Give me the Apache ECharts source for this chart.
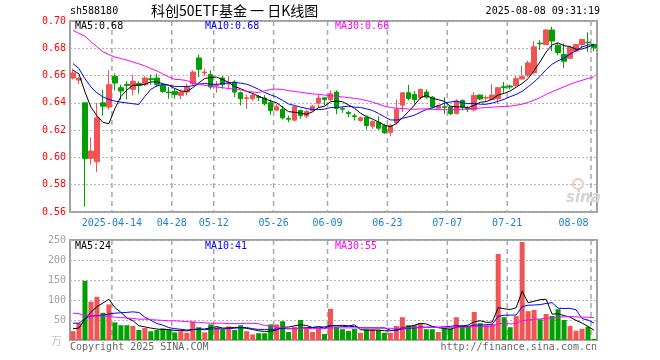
<!DOCTYPE html>
<html><head><meta charset="utf-8">
<script src="https://cdn.jsdelivr.net/npm/echarts@6/dist/echarts.min.js"></script>
<style>html,body{margin:0;padding:0;background:#fff}#c{width:660px;height:360px}</style>
</head><body><div id="c"></div>
<script>
const dates = ['2025-04-02','2025-04-03','2025-04-07','2025-04-08','2025-04-09','2025-04-10','2025-04-11','2025-04-14','2025-04-15','2025-04-16',
'2025-04-17','2025-04-18','2025-04-21','2025-04-22','2025-04-23','2025-04-24','2025-04-25','2025-04-28','2025-04-29','2025-04-30',
'2025-05-06','2025-05-07','2025-05-08','2025-05-09','2025-05-12','2025-05-13','2025-05-14','2025-05-15','2025-05-16','2025-05-19',
'2025-05-20','2025-05-21','2025-05-22','2025-05-23','2025-05-26','2025-05-27','2025-05-28','2025-05-29','2025-05-30','2025-06-03',
'2025-06-04','2025-06-05','2025-06-06','2025-06-09','2025-06-10','2025-06-11','2025-06-12','2025-06-13','2025-06-16','2025-06-17',
'2025-06-18','2025-06-19','2025-06-20','2025-06-23','2025-06-24','2025-06-25','2025-06-26','2025-06-27','2025-06-30','2025-07-01',
'2025-07-02','2025-07-03','2025-07-04','2025-07-07','2025-07-08','2025-07-09','2025-07-10','2025-07-11','2025-07-14','2025-07-15',
'2025-07-16','2025-07-17','2025-07-18','2025-07-21','2025-07-22','2025-07-23','2025-07-24','2025-07-25','2025-07-28','2025-07-29',
'2025-07-30','2025-07-31','2025-08-01','2025-08-04','2025-08-05','2025-08-06','2025-08-07','2025-08-08'];
const tickDates = ['2025-04-14','2025-04-28','2025-05-12','2025-05-26','2025-06-09','2025-06-23','2025-07-07','2025-07-21','2025-08-08'];
const opens = [0.6582,0.6567,0.6400,0.5993,0.5968,0.6400,0.6369,0.6595,0.6511,0.6536,
0.6499,0.6541,0.6533,0.6577,0.6582,0.6528,0.6479,0.6484,0.6455,0.6479,
0.6541,0.6729,0.6619,0.6607,0.6526,0.6582,0.6538,0.6553,0.6474,0.6432,
0.6430,0.6445,0.6435,0.6400,0.6347,0.6351,0.6285,0.6273,0.6344,0.6303,
0.6344,0.6398,0.6437,0.6425,0.6479,0.6359,0.6330,0.6305,0.6271,0.6295,
0.6229,0.6258,0.6234,0.6184,0.6253,0.6383,0.6474,0.6462,0.6437,0.6479,
0.6442,0.6361,0.6371,0.6371,0.6322,0.6418,0.6359,0.6349,0.6457,0.6435,
0.6425,0.6430,0.6518,0.6523,0.6528,0.6575,0.6602,0.6621,0.6838,0.6828,
0.6934,0.6823,0.6754,0.6727,0.6779,0.6828,0.6845,0.6828];
const closes = [0.6619,0.6579,0.5993,0.6047,0.6290,0.6376,0.6533,0.6545,0.6486,0.6528,
0.6558,0.6528,0.6582,0.6570,0.6536,0.6484,0.6474,0.6462,0.6479,0.6516,
0.6626,0.6646,0.6626,0.6516,0.6531,0.6533,0.6543,0.6479,0.6430,0.6437,
0.6455,0.6440,0.6393,0.6344,0.6371,0.6290,0.6280,0.6371,0.6307,0.6337,
0.6376,0.6435,0.6425,0.6467,0.6361,0.6354,0.6320,0.6300,0.6290,0.6234,
0.6263,0.6214,0.6180,0.6234,0.6351,0.6474,0.6432,0.6425,0.6499,0.6442,
0.6369,0.6381,0.6366,0.6322,0.6413,0.6369,0.6354,0.6455,0.6428,0.6440,
0.6457,0.6511,0.6511,0.6516,0.6577,0.6592,0.6693,0.6811,0.6833,0.6934,
0.6853,0.6769,0.6705,0.6806,0.6828,0.6865,0.6840,0.6804];
const lows = [0.6572,0.6538,0.5639,0.5946,0.5894,0.6307,0.6351,0.6491,0.6423,0.6425,
0.6455,0.6467,0.6523,0.6533,0.6516,0.6474,0.6430,0.6430,0.6425,0.6455,
0.6528,0.6590,0.6597,0.6499,0.6474,0.6504,0.6504,0.6442,0.6381,0.6356,
0.6416,0.6413,0.6381,0.6312,0.6344,0.6278,0.6258,0.6266,0.6283,0.6288,
0.6337,0.6366,0.6381,0.6413,0.6317,0.6327,0.6295,0.6271,0.6261,0.6204,
0.6209,0.6202,0.6172,0.6155,0.6241,0.6334,0.6418,0.6393,0.6425,0.6430,
0.6361,0.6351,0.6317,0.6310,0.6315,0.6344,0.6332,0.6337,0.6420,0.6413,
0.6418,0.6393,0.6474,0.6499,0.6516,0.6570,0.6590,0.6609,0.6786,0.6823,
0.6779,0.6749,0.6656,0.6720,0.6774,0.6803,0.6774,0.6779];
const highs = [0.6651,0.6590,0.6400,0.6147,0.6400,0.6496,0.6639,0.6614,0.6533,0.6558,
0.6607,0.6558,0.6597,0.6607,0.6614,0.6541,0.6516,0.6504,0.6499,0.6541,
0.6639,0.6754,0.6651,0.6639,0.6560,0.6597,0.6597,0.6565,0.6484,0.6462,
0.6474,0.6457,0.6457,0.6425,0.6391,0.6376,0.6307,0.6378,0.6351,0.6351,
0.6386,0.6459,0.6440,0.6491,0.6491,0.6371,0.6342,0.6322,0.6300,0.6307,
0.6271,0.6300,0.6246,0.6246,0.6425,0.6479,0.6533,0.6486,0.6504,0.6499,
0.6450,0.6386,0.6442,0.6376,0.6425,0.6425,0.6376,0.6479,0.6462,0.6455,
0.6538,0.6516,0.6553,0.6533,0.6597,0.6673,0.6710,0.6853,0.6860,0.6941,
0.6958,0.6835,0.6835,0.6811,0.6833,0.6867,0.6916,0.6835];
const volumes = [22,42,148,96,108,68,89,44,37,37,
35,25,30,22,25,29,25,19,22,18,
46,32,19,39,32,27,34,25,37,22,
14,17,17,39,39,47,20,33,50,32,
20,31,15,78,33,27,23,28,18,27,
27,25,18,18,35,57,37,37,42,27,
27,20,29,29,57,37,35,70,42,37,
40,215,57,32,60,245,72,75,52,65,
60,77,50,35,23,28,33,3];
// moving-average values for the days before each window fills
const ma5Head = [0.6640,0.6612,0.6480,0.6368];
const ma10Head = [0.6688,0.6651,0.6577,0.6516,0.6474,0.6443,0.6425,0.6413,0.6405];
const ma30Head = [0.6931,0.6909,0.6889,0.6848,0.6811,0.6774,0.6754,0.6735,0.6725,0.6713,
0.6700,0.6686,0.6671,0.6651,0.6634,0.6612,0.6590,0.6572,0.6570,0.6563,
0.6548,0.6536,0.6528,0.6521,0.6516,0.6511,0.6505,0.6500,0.6495];
const volMa5Head = [28,30,52,70];
const volMa10Head = [42,42,54,60,61,62,65,67,68];
const volMa30Head = [67,66,61,60,60,60,59,57,56,55,54,52,52,51,50,49,48,48,47,46,45,44,43,42,42,42,41,41,41];
const priceLegend = ['MA5:0.68','MA10:0.68','MA30:0.66'];
const volLegend = ['MA5:24','MA10:41','MA30:55'];

function movingAvg(arr, n, head) {
  return arr.map((v, i) => {
    if (i < n - 1) return head[i];
    let s = 0; for (let k = i - n + 1; k <= i; k++) s += arr[k];
    return s / n;
  });
}
const RED = '#f05454', GREEN = '#00a000';
const MONO = '"DejaVu Sans Mono"';
const kData = opens.map((o, i) => [o, closes[i], lows[i], highs[i]]);
const volData = volumes.map((v, i) => ({ value: v, itemStyle: { color: closes[i] >= opens[i] ? RED : GREEN } }));
const tickIdx = tickDates.map(d => dates.indexOf(d));
const isTick = (idx) => tickIdx.indexOf(idx) >= 0;
const N = dates.length;

const chart = echarts.init(document.getElementById('c'));
const dotted = { show: true, lineStyle: { color: '#b4b4b4', type: [2, 2], width: 1 } };
const lineS = (name, data, color, xi, yi) => ({ name, type: 'line', data, xAxisIndex: xi, yAxisIndex: yi, symbol: 'none', smooth: false, lineStyle: { color, width: 1 }, z: 3 });
// vertical dashed separators at the left edge of each labelled trading day's band:
// one item per (separator, dash number), each drawing a single short segment
const DASH = 5, STEP = 9;
const sepSeries = (xi, yi, nDash) => {
  const items = [];
  tickIdx.forEach(i => { for (let k = 0; k < nDash; k++) items.push([i, k]); });
  return {
    type: 'custom', xAxisIndex: xi, yAxisIndex: yi, data: items,
    renderItem: function (params, api) {
      const cs = params.coordSys;
      const x = api.coord([api.value(0), 0])[0];
      const bottom = cs.y + cs.height;
      const y1 = cs.y + api.value(1) * STEP;
      const y2 = Math.min(y1 + DASH, bottom);
      return { type: 'line', shape: { x1: x, y1: y1, x2: x, y2: y2 }, style: { stroke: '#a8a8a8', lineWidth: 1.5 } };
    }
  };
};
function txt(t, x, y, color, font, align) {
  return { type: 'text', x, y, silent: true, z: 100, style: { text: t, fill: color, font, align: align || 'left', verticalAlign: 'middle', textAlign: align || 'left', textVerticalAlign: 'middle' } };
}
const hiddenVal = (gi) => ({ type: 'value', gridIndex: gi, min: 0, max: N, position: 'top',
  axisLine: { show: false }, axisTick: { show: false }, axisLabel: { show: false }, splitLine: { show: false } });
chart.setOption({
  animation: false,
  grid: [
    { left: 70, right: 63, top: 21, height: 191, show: true, borderColor: '#a0a0a0', borderWidth: 2 },
    { left: 70, right: 63, top: 240, height: 100, show: true, borderColor: '#a0a0a0', borderWidth: 2 }
  ],
  xAxis: [
    { type: 'category', gridIndex: 0, data: dates, boundaryGap: true,
      axisLine: { show: false }, axisTick: { show: false },
      axisLabel: { interval: (i) => isTick(i), color: '#1a7fd0', fontFamily: MONO, fontSize: 10, margin: 6,
        formatter: (v) => (v === tickDates[tickDates.length - 1] ? '{b|' : '{a|') + (v === tickDates[0] ? v : v.slice(5)) + '}',
        rich: { a: { padding: [0, 6, 0, 0], color: '#1a7fd0', fontFamily: MONO, fontSize: 10 },
                b: { padding: [0, 41, 0, 0], color: '#1a7fd0', fontFamily: MONO, fontSize: 10 } } },
      splitLine: { show: false } },
    { type: 'category', gridIndex: 1, data: dates, boundaryGap: true,
      axisLine: { show: false }, axisTick: { show: false }, axisLabel: { show: false }, splitLine: { show: false } },
    hiddenVal(0),
    hiddenVal(1)
  ],
  yAxis: [
    { type: 'value', gridIndex: 0, min: 0.56, max: 0.70, interval: 0.02,
      axisLine: { show: false }, axisTick: { show: false },
      axisLabel: { color: '#ff0000', fontFamily: MONO, fontSize: 10, margin: 4, formatter: (v) => v.toFixed(2) },
      splitLine: dotted },
    { type: 'value', gridIndex: 1, min: 0, max: 250, interval: 50,
      axisLine: { show: false }, axisTick: { show: false },
      axisLabel: { color: '#a0a0a0', fontFamily: MONO, fontSize: 10, margin: 4, formatter: (v) => v === 0 ? '' : String(v) },
      splitLine: dotted }
  ],
  series: [
    sepSeries(2, 0, 22),
    sepSeries(3, 1, 12),
    { type: 'candlestick', xAxisIndex: 0, yAxisIndex: 0, data: kData, barWidth: 5, z: 2,
      itemStyle: { color: RED, color0: GREEN, borderColor: RED, borderColor0: GREEN, borderWidth: 1 } },
    lineS('MA5', movingAvg(closes, 5, ma5Head), '#000000', 0, 0),
    lineS('MA10', movingAvg(closes, 10, ma10Head), '#0000ff', 0, 0),
    lineS('MA30', movingAvg(closes, 30, ma30Head), '#ff00ff', 0, 0),
    { type: 'bar', xAxisIndex: 1, yAxisIndex: 1, data: volData, barWidth: 5, z: 2 },
    lineS('VMA5', movingAvg(volumes, 5, volMa5Head), '#000000', 1, 1),
    lineS('VMA10', movingAvg(volumes, 10, volMa10Head), '#0000ff', 1, 1),
    lineS('VMA30', movingAvg(volumes, 30, volMa30Head), '#ff00ff', 1, 1)
  ],
  graphic: [
    txt('sh588180', 70, 11, '#000', '10px ' + MONO),
    txt('科创50ETF基金 一 日K线图', 151, 11, '#000', '14px "Noto Sans CJK SC"'),
    txt('2025-08-08 09:31:19', 600, 11, '#000', '10px ' + MONO, 'right'),
    txt(priceLegend[0], 75, 26, '#000000', '10px ' + MONO),
    txt(priceLegend[1], 205, 26, '#0000ff', '10px ' + MONO),
    txt(priceLegend[2], 335, 26, '#ff00ff', '10px ' + MONO),
    txt(volLegend[0], 75, 246, '#000000', '10px ' + MONO),
    txt(volLegend[1], 205, 246, '#0000ff', '10px ' + MONO),
    txt(volLegend[2], 335, 246, '#ff00ff', '10px ' + MONO),
    txt('万', 51, 341, '#c4c4c4', '11px "Noto Sans CJK SC"'),
    txt('Copyright 2025 SINA.COM', 70, 347, '#666', '10px ' + MONO),
    txt('http://finance.sina.com.cn', 597, 347, '#666', '10px ' + MONO, 'right'),
    { type: 'circle', shape: { cx: 578, cy: 184, r: 5 }, style: { fill: 'none', stroke: '#f2c4c4', lineWidth: 2 }, silent: true, z: 1 },
    txt('sina', 566, 198, '#d4d4d4', 'italic bold 15px "DejaVu Sans"')
  ]
});
</script></body></html>
